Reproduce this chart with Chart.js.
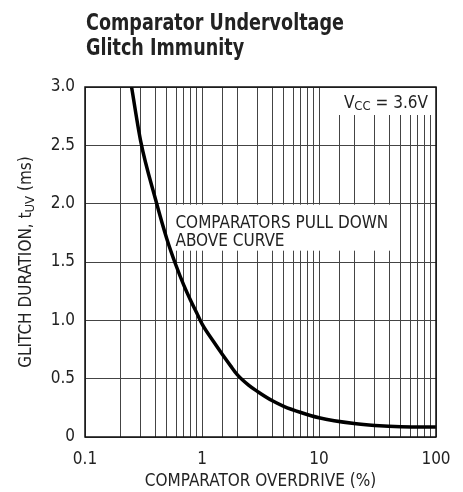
<!DOCTYPE html>
<html>
<head>
<meta charset="utf-8">
<script src="https://cdn.jsdelivr.net/npm/chart.js@4.4.0/dist/chart.umd.min.js"></script>
<style>
  body { margin: 0; background: #fff; }
  .wrap { width: 463px; height: 492px; position: relative; }
</style>
</head>
<body>
<div class="wrap"><canvas id="myChart"></canvas></div>
<script>
// data
var overdrive = [0.25, 0.3, 0.4, 0.5, 0.6, 0.7, 0.8, 0.9, 1, 1.25, 1.5, 1.75, 2, 2.5, 3, 4, 5, 7, 10, 20, 30, 50, 100];
var glitchMs = [3.0, 2.53, 2.04, 1.70, 1.47, 1.30, 1.17, 1.065, 0.97, 0.82, 0.705, 0.612, 0.535, 0.445, 0.388, 0.31, 0.263, 0.21, 0.165, 0.115, 0.098, 0.087, 0.085];
var xTickLabels = ['0.1', '1', '10', '100'];
var yTickLabels = ['0', '0.5', '1.0', '1.5', '2.0', '2.5', '3.0'];

var FONT = "'Liberation Sans Narrow', 'DejaVu Sans Condensed', 'Roboto', sans-serif";
var INK = '#222';

var points = overdrive.map(function (x, i) { return { x: x, y: glitchMs[i] }; });

function subText(ctx, parts, x, y, align) {
  // parts: [text, size, dy]
  var total = 0;
  parts.forEach(function (p) { ctx.font = p[1] + 'px ' + FONT; total += ctx.measureText(p[0]).width; });
  var cx = align === 'right' ? x - total : (align === 'center' ? x - total / 2 : x);
  ctx.textAlign = 'left';
  parts.forEach(function (p) {
    ctx.font = p[1] + 'px ' + FONT;
    ctx.fillText(p[0], cx, y + p[2]);
    cx += ctx.measureText(p[0]).width;
  });
  return total;
}

var boxes = {
  id: 'boxes',
  beforeDatasetsDraw: function (chart) {
    var ctx = chart.ctx, a = chart.chartArea;
    var xs = chart.scales.x, ys = chart.scales.y;
    ctx.save();
    // note box
    var bx = xs.getPixelForValue(0.57), by = ys.getPixelForValue(2.0) + 1;
    ctx.fillStyle = '#fff';
    ctx.fillRect(bx, by, 225, 46);
    ctx.fillStyle = INK;
    ctx.textBaseline = 'alphabetic';
    ctx.font = '17px ' + FONT;
    ctx.textAlign = 'left';
    ctx.fillText('COMPARATORS PULL DOWN', bx + 2, by + 23);
    ctx.fillText('ABOVE CURVE', bx + 2, by + 41);
    // vcc box
    ctx.fillStyle = '#fff';
    ctx.fillRect(a.right - 107, a.top + 1, 106, 27);
    ctx.fillStyle = INK;
    subText(ctx, [['V', 17, 0], ['CC', 13, 2], [' = 3.6V', 17, 0]], a.right - 8, a.top + 21, 'right');
    ctx.restore();
  },
  afterDraw: function (chart) {
    var ctx = chart.ctx, a = chart.chartArea;
    ctx.save();
    ctx.strokeStyle = '#111';
    ctx.lineWidth = 1.5;
    ctx.strokeRect(a.left, a.top, a.right - a.left, a.bottom - a.top);
    // title (squeezed to look like the condensed face)
    ctx.save();
    ctx.fillStyle = INK;
    ctx.textAlign = 'left';
    ctx.textBaseline = 'alphabetic';
    ctx.font = 'bold 23px ' + FONT;
    ctx.translate(86, 0);
    ctx.scale(0.85, 1);
    ctx.fillText('Comparator Undervoltage', 0, 30);
    ctx.fillText('Glitch Immunity', 0, 55);
    ctx.restore();
    // y title with subscript
    ctx.fillStyle = INK;
    ctx.translate(31, (a.top + a.bottom) / 2);
    ctx.rotate(-Math.PI / 2);
    subText(ctx, [['GLITCH DURATION, t', 17, 0], ['UV', 13, 3], [' (ms)', 17, 0]], 0, 0, 'center');
    ctx.restore();
  }
};

const ctx = document.getElementById('myChart');
const myChart = new Chart(ctx, {
  type: 'line',
  data: {
    datasets: [{
      data: points,
      borderColor: '#000',
      borderWidth: 3.5,
      pointRadius: 0,
      cubicInterpolationMode: 'monotone',
      fill: false
    }]
  },
  options: {
    responsive: true,
    maintainAspectRatio: false,
    animation: false,
    layout: { padding: { top: 87, right: 27, bottom: 0, left: 0 } },
    scales: {
      x: {
        type: 'logarithmic',
        min: 0.1,
        max: 100,
        afterFit: function (s) { s.height = 55; },
        grid: { color: '#444', lineWidth: 1, drawTicks: false },
        border: { display: false },
        ticks: {
          autoSkip: false,
          maxRotation: 0,
          padding: 12,
          color: INK,
          font: { family: FONT, size: 17 },
          callback: function (v) {
            var e = Math.log10(v);
            if (Math.abs(e - Math.round(e)) < 1e-6) return xTickLabels[Math.round(e) + 1];
            return '';
          }
        },
        title: {
          display: true,
          text: 'COMPARATOR OVERDRIVE (%)',
          color: INK,
          font: { family: FONT, size: 17 },
          padding: { top: 0, bottom: 0 }
        }
      },
      y: {
        min: 0,
        max: 3,
        afterFit: function (s) { s.width = 85; },
        grid: { color: '#444', lineWidth: 1, drawTicks: false },
        border: { display: false },
        ticks: {
          stepSize: 0.5,
          padding: 10,
          color: INK,
          font: { family: FONT, size: 17 },
          callback: function (v) { return yTickLabels[Math.round(v * 2)]; }
        }
      }
    },
    plugins: {
      legend: { display: false },
      tooltip: { enabled: false }
    }
  },
  plugins: [boxes]
});
</script>
</body>
</html>
